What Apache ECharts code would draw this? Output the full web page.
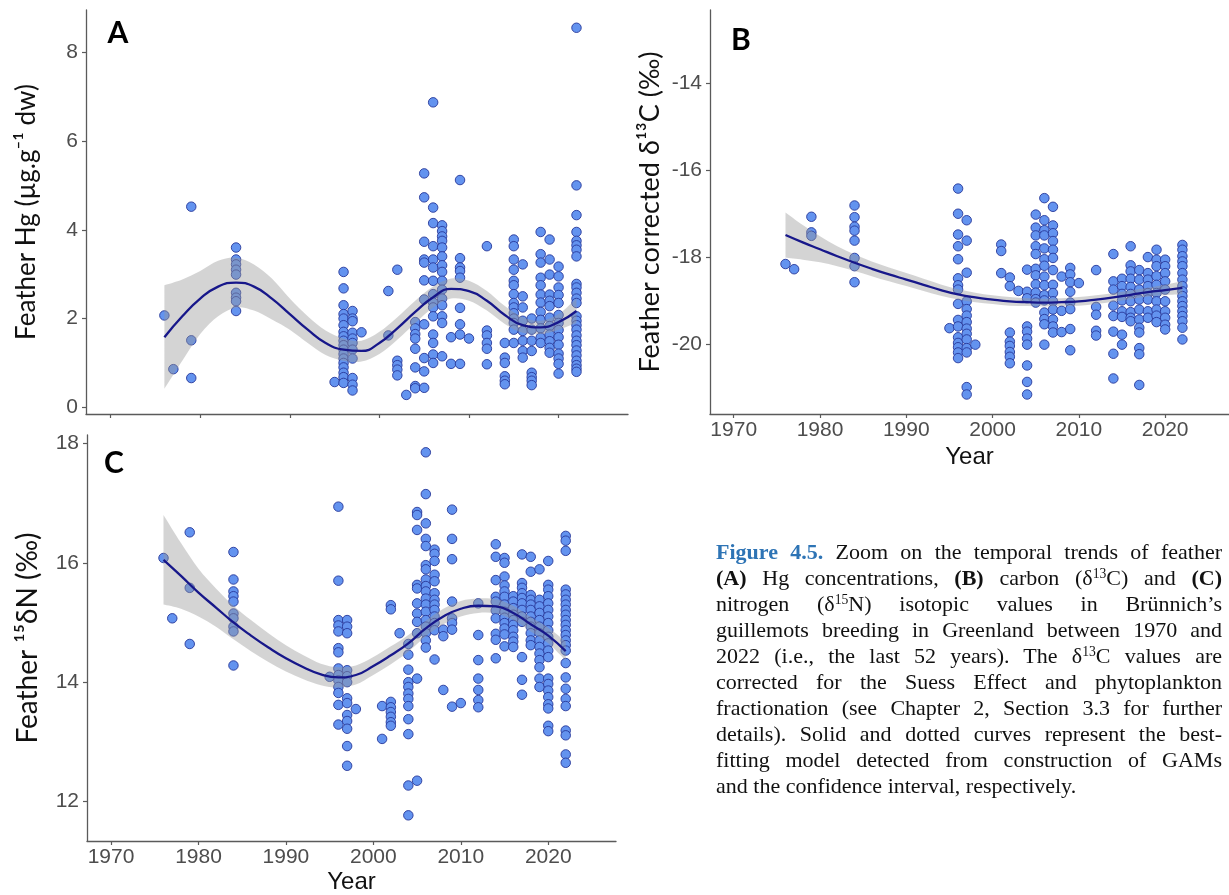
<!DOCTYPE html>
<html>
<head>
<meta charset="utf-8">
<script src="https://cdn.jsdelivr.net/npm/echarts@6/dist/echarts.min.js"></script>
<style>
html,body{margin:0;padding:0;background:#fff;}
#chart{position:absolute;left:0;top:0;width:1229px;height:895px;}
#caption{position:absolute;left:716px;top:539px;width:506px;font-family:'Liberation Serif','Times New Roman',serif;font-size:22px;line-height:26px;color:#111;}
#caption .ln{text-align:justify;text-align-last:justify;height:26px;overflow:visible;}
#caption .last{text-align:left;text-align-last:left;}
#caption .fig{color:#2E74B5;font-weight:bold;}
#caption b{font-weight:bold;}
#caption .sp{font-size:0.62em;vertical-align:0.5em;line-height:0;}
</style>
</head>
<body>
<div id="chart"></div>
<div id="caption">
<div class="ln"><span class="fig">Figure 4.5.</span> Zoom on the temporal trends of feather</div>
<div class="ln"><b>(A)</b> Hg concentrations, <b>(B)</b> carbon (δ<span class="sp">13</span>C) and <b>(C)</b></div>
<div class="ln">nitrogen (δ<span class="sp">15</span>N) isotopic values in Brünnich’s</div>
<div class="ln">guillemots breeding in Greenland between 1970 and</div>
<div class="ln">2022 (i.e., the last 52 years). The δ<span class="sp">13</span>C values are</div>
<div class="ln">corrected for the Suess Effect and phytoplankton</div>
<div class="ln">fractionation (see Chapter 2, Section 3.3 for further</div>
<div class="ln">details). Solid and dotted curves represent the best-</div>
<div class="ln">fitting model detected from construction of GAMs</div>
<div class="ln last">and the confidence interval, respectively.</div>
</div>
<script>
// ---------- DATA ----------
const sampleYears = [1976,1977,1979,1984,1995,1996,1997,1998,2001,2002,2003,2004,2005,2006,2007,2008,2009,2010,2012,2014,2015,2016,2017,2018,2019,2020,2022];

// Panel A: feather Hg (µg/g dw), one list per sample year
const hgValues = [
  [2.07],
  [0.86],
  [4.52,1.51,0.66],
  [3.6,3.33,3.22,3.1,2.99,2.58,2.47,2.39,2.17],
  [0.57],
  [3.05,2.68,2.3,2.1,2.0,1.85,1.7,1.6,1.5,1.4,1.3,1.2,1.1,1.0,0.9,0.78,0.68,0.55],
  [2.17,2.0,1.94,1.68,1.55,1.45,1.3,1.1,0.66,0.51,0.38],
  [1.69],
  [2.62,1.62],
  [3.1,1.05,0.95,0.85,0.72],
  [0.28],
  [1.92,1.78,1.65,1.55,1.32,0.9,0.48,0.43],
  [5.27,4.73,3.73,3.33,3.26,2.86,2.43,1.87,1.11,0.81,0.44],
  [6.87,4.5,4.15,3.63,3.33,3.15,2.85,2.55,2.36,2.25,2.05,1.64,1.45,1.19,1.0],
  [4.1,3.97,3.85,3.75,3.6,3.4,3.2,3.05,2.85,2.65,2.45,2.3,2.05,1.9,1.15],
  [1.58,0.98],
  [5.12,3.36,3.15,3.07,2.92,2.24,1.87,1.64,0.98],
  [1.55],
  [3.63,1.73,1.62,1.45,1.32,0.97],
  [1.45,1.12,1.0,0.7,0.6,0.52],
  [3.78,3.63,3.33,3.1,2.85,2.75,2.55,2.35,2.25,2.12,2.0,1.9,1.75,1.45],
  [3.22,2.5,2.25,1.95,1.72,1.5,1.27,1.12],
  [2.0,1.75,1.5,1.27,0.78,0.68,0.6,0.5],
  [3.95,3.45,3.26,2.92,2.75,2.54,2.36,2.15,1.97,1.78,1.57,1.45],
  [3.78,3.33,2.99,2.54,2.4,2.28,2.02,1.83,1.64,1.49,1.34,1.23],
  [3.17,2.95,2.7,2.53,2.35,2.08,1.9,1.74,1.58,1.41,1.21,1.1,0.98,0.76],
  [8.55,5.0,4.33,3.95,3.75,3.65,3.55,3.4,2.78,2.7,2.58,2.45,2.35,2.05,1.95,1.85,1.75,1.62,1.5,1.4,1.28,1.17,1.05,0.95,0.87,0.8]
];

// Panel B: corrected δ13C (‰)
const c13Values = [
  [-18.16],
  [-18.28],
  [-17.07,-17.43,-17.51],
  [-16.81,-17.08,-17.3,-17.39,-17.62,-18.02,-18.21,-18.58],
  [-19.64],
  [-16.42,-17.0,-17.48,-17.75,-18.05,-18.49,-18.65,-18.75,-19.08,-19.45,-19.6,-19.85,-19.98,-20.08,-20.2,-20.33],
  [-17.15,-17.62,-18.36,-19.02,-19.2,-19.35,-19.5,-19.65,-19.77,-19.9,-20.1,-20.2,-21.0,-21.17],
  [-20.02],
  [-17.71,-17.86,-18.37],
  [-18.47,-18.67,-19.74,-19.95,-20.05,-20.19,-20.3,-20.45],
  [-18.78],
  [-18.29,-18.8,-18.95,-19.6,-19.72,-19.88,-20.02,-20.5,-20.88,-21.17],
  [-17.02,-17.32,-17.5,-17.75,-17.93,-18.27,-18.42,-18.63,-18.82,-18.97,-19.05],
  [-16.64,-17.15,-17.38,-17.5,-17.8,-18.05,-18.2,-18.45,-18.65,-18.88,-19.0,-19.28,-19.43,-19.55,-20.02],
  [-16.84,-17.27,-17.45,-17.63,-17.83,-18.02,-18.3,-18.64,-18.83,-19.02,-19.21,-19.44,-19.6,-19.74],
  [-18.45,-19.24,-19.73],
  [-18.25,-18.4,-18.58,-18.8,-19.05,-19.2,-19.66,-20.15],
  [-18.6],
  [-18.3,-19.15,-19.33,-19.7,-19.81],
  [-17.93,-18.56,-18.75,-19.12,-19.36,-19.72,-20.23,-20.8],
  [-18.5,-18.67,-18.85,-19.0,-19.25,-19.38,-19.79,-20.02],
  [-17.75,-18.19,-18.33,-18.5,-18.69,-18.85,-19.02,-19.27,-19.4,-19.48],
  [-18.3,-18.52,-18.75,-18.98,-19.21,-19.44,-19.63,-19.74,-20.1,-20.24,-20.95],
  [-18.0,-18.37,-18.52,-18.67,-18.83,-18.98,-19.25,-19.4],
  [-17.83,-18.06,-18.21,-18.44,-18.64,-18.83,-19.02,-19.21,-19.35,-19.5],
  [-18.06,-18.21,-18.37,-18.56,-18.75,-19.02,-19.25,-19.4,-19.56,-19.67],
  [-17.72,-17.83,-17.98,-18.1,-18.21,-18.37,-18.52,-18.67,-18.79,-18.9,-19.02,-19.13,-19.25,-19.36,-19.48,-19.63,-19.9]
];

// Panel C: δ15N (‰)
const n15Values = [
  [16.08],
  [15.07],
  [16.51,15.58,14.64],
  [16.18,15.72,15.52,15.44,15.35,15.15,15.07,14.93,14.85,14.28],
  [14.09],
  [16.94,15.7,15.04,14.95,14.85,14.57,14.5,14.23,14.12,14.03,13.92,13.82,13.62,13.29],
  [15.04,14.93,14.82,14.2,14.1,14.0,13.73,13.65,13.45,13.35,13.22,12.93,12.6],
  [13.55],
  [13.6,13.05],
  [15.29,15.22,13.67,13.58,13.5,13.42,13.33,13.27],
  [14.82],
  [14.64,14.46,14.21,14.0,13.92,13.81,13.72,13.6,13.38,13.13,12.27,11.77],
  [16.85,16.8,16.55,15.63,15.57,15.32,15.15,15.01,14.82,14.06,12.35],
  [17.85,17.15,16.66,16.4,16.28,15.96,15.89,15.72,15.61,15.52,15.4,15.3,15.18,15.04,14.93,14.82,14.7,14.58],
  [16.22,16.15,16.03,15.8,15.69,15.49,15.38,15.3,15.21,15.1,14.99,14.87,14.38],
  [14.88,14.77,13.87],
  [16.89,16.4,16.06,15.35,15.07,14.99,14.88,13.59],
  [13.65],
  [15.32,14.79,14.37,14.06,13.87,13.7,13.58],
  [16.31,16.1,15.71,15.43,15.35,15.2,15.07,14.81,14.71,14.4],
  [16.08,16.0,15.77,15.62,15.52,15.43,15.3,15.18,15.08,14.99,14.9,14.8,14.6],
  [15.44,15.35,15.24,15.13,15.04,14.96,14.87,14.76,14.68,14.59],
  [16.14,15.66,15.58,15.49,15.41,15.32,15.21,15.1,15.01,14.42,14.04,13.79],
  [16.1,15.85,15.46,15.38,15.3,15.21,15.1,15.01,14.93,14.82,14.7,14.62],
  [15.89,15.38,15.27,15.16,15.04,14.93,14.82,14.7,14.59,14.48,14.37,14.25,14.06,13.92],
  [16.03,15.63,15.55,15.44,15.32,15.21,15.1,14.99,14.87,14.76,14.65,14.53,14.42,14.06,13.97,13.86,13.75,13.63,13.56,13.27,13.18],
  [16.45,16.37,16.2,15.55,15.47,15.38,15.3,15.21,15.13,15.04,14.96,14.87,14.79,14.7,14.62,14.53,14.32,14.08,13.89,13.72,13.6,13.19,13.11,12.79,12.65]
];

// GAM fits and confidence bands (read at every second year)
const fitYears = [1976,1978,1980,1982,1984,1986,1988,1990,1992,1994,1996,1998,2000,2002,2004,2006,2008,2010,2012,2014,2016,2018,2020,2022];
const hgFit   = [1.58,2.05,2.45,2.72,2.81,2.72,2.45,2.1,1.75,1.45,1.3,1.27,1.45,1.78,2.15,2.48,2.67,2.62,2.4,2.08,1.85,1.8,1.92,2.17];
const hgLower = [0.42,1.05,1.65,2.05,2.25,2.18,1.98,1.75,1.45,1.18,1.05,1.03,1.2,1.52,1.9,2.25,2.45,2.4,2.18,1.88,1.68,1.65,1.75,1.9];
const hgUpper = [2.75,2.88,3.07,3.3,3.37,3.22,2.9,2.45,2.05,1.73,1.55,1.5,1.7,2.03,2.4,2.72,2.9,2.85,2.62,2.28,2.03,1.95,2.1,2.45];
const c13Fit   = [-17.49,-17.66,-17.82,-17.98,-18.13,-18.27,-18.4,-18.52,-18.64,-18.76,-18.86,-18.93,-18.98,-19.02,-19.04,-19.05,-19.04,-19.02,-18.98,-18.93,-18.87,-18.81,-18.76,-18.71];
const c13Lower = [-18.01,-18.06,-18.12,-18.21,-18.32,-18.44,-18.56,-18.67,-18.78,-18.89,-18.98,-19.04,-19.08,-19.12,-19.13,-19.14,-19.13,-19.12,-19.08,-19.03,-18.97,-18.91,-18.88,-18.86];
const c13Upper = [-16.97,-17.26,-17.52,-17.75,-17.94,-18.1,-18.24,-18.37,-18.5,-18.63,-18.74,-18.82,-18.88,-18.92,-18.95,-18.96,-18.95,-18.92,-18.88,-18.83,-18.77,-18.71,-18.64,-18.56];
const n15Fit   = [16.05,15.78,15.5,15.25,15.0,14.78,14.58,14.4,14.25,14.13,14.08,14.12,14.27,14.45,14.65,14.9,15.1,15.23,15.28,15.27,15.16,14.97,14.78,14.52];
const n15Lower = [15.3,15.23,15.1,14.93,14.72,14.52,14.34,14.18,14.05,13.95,13.91,13.96,14.12,14.3,14.51,14.77,14.97,15.1,15.16,15.15,15.04,14.85,14.65,14.36];
const n15Upper = [16.8,16.33,15.9,15.57,15.28,15.04,14.82,14.62,14.45,14.31,14.25,14.28,14.42,14.6,14.79,15.03,15.23,15.36,15.4,15.39,15.28,15.09,14.91,14.68];

// Tick labels
const yearTicks = [1970,1980,1990,2000,2010,2020];
const hgTicks  = [0,2,4,6,8];
const c13Ticks = [-20,-18,-16,-14];
const n15Ticks = [12,14,16,18];

// ---------- CHART ----------
const chart = echarts.init(document.getElementById('chart'));

function pairs(years, groups) {
  const out = [];
  years.forEach((y, i) => groups[i].forEach(v => out.push([y, v])));
  return out;
}
function zip(xs, ys) { return xs.map((x, i) => [x, ys[i]]); }

// Catmull-Rom style smooth path through pixel points (drawing only)
function smoothSegments(p) {
  let d = '';
  for (let i = 0; i < p.length - 1; i++) {
    const p0 = p[Math.max(0, i - 1)], p1 = p[i], p2 = p[i + 1], p3 = p[Math.min(p.length - 1, i + 2)];
    const c1 = [p1[0] + (p2[0] - p0[0]) / 6, p1[1] + (p2[1] - p0[1]) / 6];
    const c2 = [p2[0] - (p3[0] - p1[0]) / 6, p2[1] - (p3[1] - p1[1]) / 6];
    d += ' C' + c1[0].toFixed(2) + ' ' + c1[1].toFixed(2) + ' ' + c2[0].toFixed(2) + ' ' + c2[1].toFixed(2) + ' ' + p2[0].toFixed(2) + ' ' + p2[1].toFixed(2);
  }
  return d;
}

const axisColor = '#5a5a5a';
const tickFont = { color: '#4d4d4d', fontSize: 21, fontFamily: 'Liberation Sans, Arial, sans-serif' };
function titleFont(size) { return { color: '#111', fontSize: size, fontFamily: 'Lato, "Open Sans", sans-serif' }; }

function xAxis(gi, showLabels, max, nameGap) {
  return {
    type: 'value', gridIndex: gi, min: 1967.25, max: max,
    axisLine: { show: true, onZero: false, lineStyle: { color: axisColor, width: 1.3 } },
    axisTick: { show: true, length: 4, customValues: yearTicks, lineStyle: { color: axisColor, width: 1.2 } },
    axisLabel: Object.assign({ show: showLabels, customValues: yearTicks, margin: 6, formatter: v => String(v) }, tickFont),
    splitLine: { show: false },
    name: showLabels ? 'Year' : '', nameLocation: 'middle', nameGap: nameGap,
    nameTextStyle: { color: '#111', fontSize: 24, fontFamily: 'Liberation Sans, Arial, sans-serif' }
  };
}
function yAxis(gi, min, max, ticks, name, nameGap, nameSize) {
  return {
    type: 'value', gridIndex: gi, min: min, max: max,
    axisLine: { show: true, onZero: false, lineStyle: { color: axisColor, width: 1.3 } },
    axisTick: { show: true, length: 4, customValues: ticks, lineStyle: { color: axisColor, width: 1.2 } },
    axisLabel: Object.assign({ customValues: ticks, margin: 8, formatter: v => String(v) }, tickFont),
    splitLine: { show: false },
    name: name, nameLocation: 'middle', nameGap: nameGap, nameTextStyle: titleFont(nameSize)
  };
}

function panelSeries(idx, values, fit, lower, upper) {
  return [
    {
      type: 'scatter', xAxisIndex: idx, yAxisIndex: idx, z: 2,
      data: pairs(sampleYears, values), symbol: 'circle', symbolSize: 9.5,
      itemStyle: { color: '#6393ef', borderColor: '#27389a', borderWidth: 0.9, opacity: 1 },
      emphasis: { disabled: true }
    },
    {
      type: 'custom', xAxisIndex: idx, yAxisIndex: idx, z: 3, silent: true,
      data: [[fitYears[0], lower[0]]],
      renderItem: function (params, api) {
        const up = fitYears.map((y, i) => api.coord([y, upper[i]]));
        const lo = fitYears.map((y, i) => api.coord([y, lower[i]])).reverse();
        const d = 'M' + up[0][0] + ' ' + up[0][1] + smoothSegments(up) +
                  ' L' + lo[0][0] + ' ' + lo[0][1] + smoothSegments(lo) + ' Z';
        return { type: 'path', shape: { pathData: d }, style: { fill: 'rgba(153,153,153,0.42)' } };
      }
    },
    {
      type: 'line', xAxisIndex: idx, yAxisIndex: idx, z: 4,
      data: zip(fitYears, fit), smooth: true, showSymbol: false,
      lineStyle: { color: '#17178a', width: 2.3 }, emphasis: { disabled: true }
    }
  ];
}

const option = {
  backgroundColor: '#ffffff',
  animation: false,
  grid: [
    { left: 86, top: 10, width: 542, height: 404 },
    { left: 710, top: 10, width: 519, height: 404 },
    { left: 87, top: 435, width: 529, height: 406 }
  ],
  xAxis: [
    xAxis(0, false, 2027.75, 30),
    xAxis(1, true, 2027.4, 31),
    xAxis(2, true, 2027.75, 29)
  ],
  yAxis: [
    yAxis(0, -0.15, 8.95, hgTicks, 'Feather Hg (µg.g⁻¹ dw)', 46, 26),
    yAxis(1, -21.62, -12.3, c13Ticks, 'Feather corrected δ¹³C (‰)', 46, 27),
    yAxis(2, 11.34, 18.14, n15Ticks, 'Feather ¹⁵δN (‰)', 45, 28)
  ],
  series: [].concat(
    panelSeries(0, hgValues, hgFit, hgLower, hgUpper),
    panelSeries(1, c13Values, c13Fit, c13Lower, c13Upper),
    panelSeries(2, n15Values, n15Fit, n15Lower, n15Upper)
  ),
  graphic: [
    { type: 'text', x: 118, y: 33, style: { text: 'A', fontSize: 30, fontWeight: 'bold', fontFamily: 'Lato, sans-serif', fill: '#000', align: 'center', verticalAlign: 'middle' } },
    { type: 'text', x: 741, y: 40, style: { text: 'B', fontSize: 30, fontWeight: 'bold', fontFamily: 'Lato, sans-serif', fill: '#000', align: 'center', verticalAlign: 'middle' } },
    { type: 'text', x: 114, y: 463, style: { text: 'C', fontSize: 30, fontWeight: 'bold', fontFamily: 'Lato, sans-serif', fill: '#000', align: 'center', verticalAlign: 'middle' } }
  ]
};
chart.setOption(option);
</script>
</body>
</html>
